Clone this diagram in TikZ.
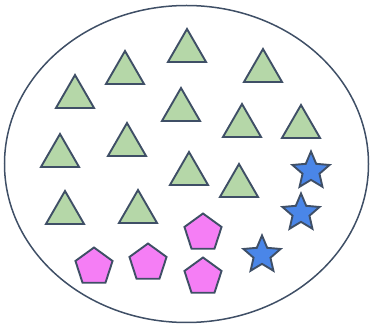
\documentclass[tikz,border=0pt]{standalone}
\usetikzlibrary{shapes.geometric}
\definecolor{edgec}{HTML}{3F4F66}
\definecolor{greenf}{HTML}{B5D7A8}
\definecolor{pinkf}{HTML}{F57EF5}
\definecolor{bluef}{HTML}{4A86E8}
\tikzset{
  tri/.style={regular polygon, regular polygon sides=3, minimum size=44pt, inner sep=0pt, draw=edgec, fill=greenf, line width=1.9pt, line join=miter},
  pent/.style={regular polygon, regular polygon sides=5, minimum size=39pt, inner sep=0pt, draw=edgec, fill=pinkf, line width=1.9pt, line join=miter},
  starn/.style={star, star points=5, star point ratio=2.2, minimum size=39pt, inner sep=0pt, draw=edgec, fill=bluef, line width=1.9pt, line join=miter},
}
\begin{document}
\begin{tikzpicture}[x=1pt,y=-1pt]
\useasboundingbox (0,0) rectangle (372,328);
\draw[edgec, line width=1.5pt] (186.5,164) ellipse [x radius=182, y radius=158.5];
% triangles (centroid = apex + 23)
\node[tri] (t1) at (187,51) {};
\node[tri] (t2) at (125,73) {};
\node[tri] (t3) at (75,97) {};
\node[tri] (t4) at (263,71) {};
\node[tri] (t5) at (181,110) {};
\node[tri] (t6) at (242,126) {};
\node[tri] (t7) at (301,127) {};
\node[tri] (t8) at (60,156) {};
\node[tri] (t9) at (127,145) {};
\node[tri] (t10) at (189,174) {};
\node[tri] (t11) at (239,186) {};
\node[tri] (t12) at (65,213) {};
\node[tri] (t13) at (138,212) {};
% pentagons
\node[pent] (p1) at (94,267) {};
\node[pent] (p2) at (148,263) {};
\node[pent] (p3) at (203,233) {};
\node[pent] (p4) at (203,277) {};
% stars
\node[starn] (s1) at (311,171) {};
\node[starn] (s2) at (301,213) {};
\node[starn] (s3) at (262,255) {};
\end{tikzpicture}
\end{document}
